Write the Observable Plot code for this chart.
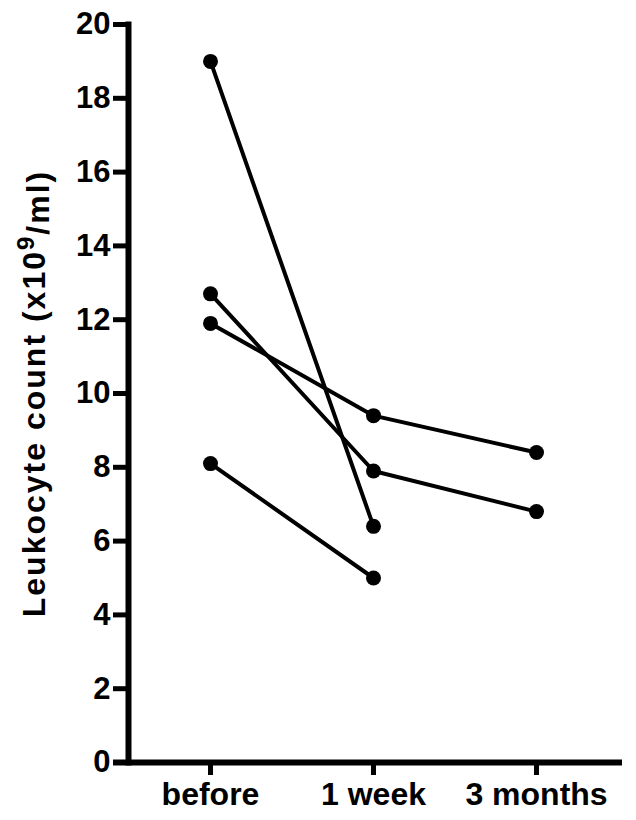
<!DOCTYPE html>
<html>
<head>
<meta charset="utf-8">
<script src="https://cdn.jsdelivr.net/npm/d3@7"></script>
<script src="https://cdn.jsdelivr.net/npm/@observablehq/plot@0.6"></script>
<style>
  html, body { margin: 0; padding: 0; background: #fff; }
  #chart svg { display: block; }
</style>
</head>
<body>
<div id="chart"></div>
<script>
// Time points (x categories)
const categories = ["before", "1 week", "3 months"];
// Leukocyte counts (x10^9/ml) per patient; null = not measured
const patientA = [19.0, 6.4, null];
const patientB = [12.7, 7.9, 6.8];
const patientC = [11.9, 9.4, 8.4];
const patientD = [8.1, 5.0, null];
const patients = ["A", "B", "C", "D"];
const series = [patientA, patientB, patientC, patientD];
// Y tick values
const yTicks = [0, 2, 4, 6, 8, 10, 12, 14, 16, 18, 20];
const yLabel = "Leukocyte count (x10";
const yLabelSup = "9";
const yLabelEnd = "/ml)";

const data = [];
series.forEach((vals, i) => {
  vals.forEach((v, j) => {
    if (v != null) data.push({patient: patients[i], time: categories[j], value: v});
  });
});

const font = "'Liberation Sans', Arial, Helvetica, sans-serif";

const chart = Plot.plot({
  width: 636,
  height: 820,
  marginTop: 24,
  marginBottom: 58,
  marginLeft: 128,
  marginRight: 18,
  style: {fontFamily: font, fontWeight: "bold", color: "#000", background: "#fff", overflow: "visible"},
  x: {type: "point", domain: categories, padding: 0.5},
  y: {domain: [0, 20]},
  marks: [
    Plot.axisY({
      ticks: yTicks, tickSize: 15, tickPadding: 3, strokeWidth: 5,
      fontSize: 31, fontWeight: "bold",
      label: yLabel + yLabelSup + yLabelEnd, labelAnchor: "center", labelArrow: "none", labelOffset: 106
    }),
    Plot.axisX({
      tickSize: 13, tickPadding: 7, strokeWidth: 5,
      fontSize: 32, fontWeight: "bold", label: null
    }),
    Plot.frame({anchor: "left", strokeWidth: 6, stroke: "black"}),
    Plot.ruleY([0], {strokeWidth: 6, stroke: "black", insetLeft: -15, insetRight: -4}),
    Plot.line(data, {x: "time", y: "value", z: "patient", stroke: "black", strokeWidth: 4}),
    Plot.dot(data, {x: "time", y: "value", r: 7.5, fill: "black", stroke: "none"})
  ]
});

document.getElementById("chart").appendChild(chart);

// Render the superscript in the y-axis label
const lab = d3.select(chart).select('g[aria-label="y-axis label"] text');
if (!lab.empty()) {
  lab.text(null)
    .style("font-size", "32px")
    .style("letter-spacing", "2px");
  lab.append("tspan").text(yLabel);
  lab.append("tspan").attr("dy", "-0.45em").style("font-size", "24px").text(yLabelSup);
  lab.append("tspan").attr("dy", "0.45em").text(yLabelEnd);
}
</script>
</body>
</html>
